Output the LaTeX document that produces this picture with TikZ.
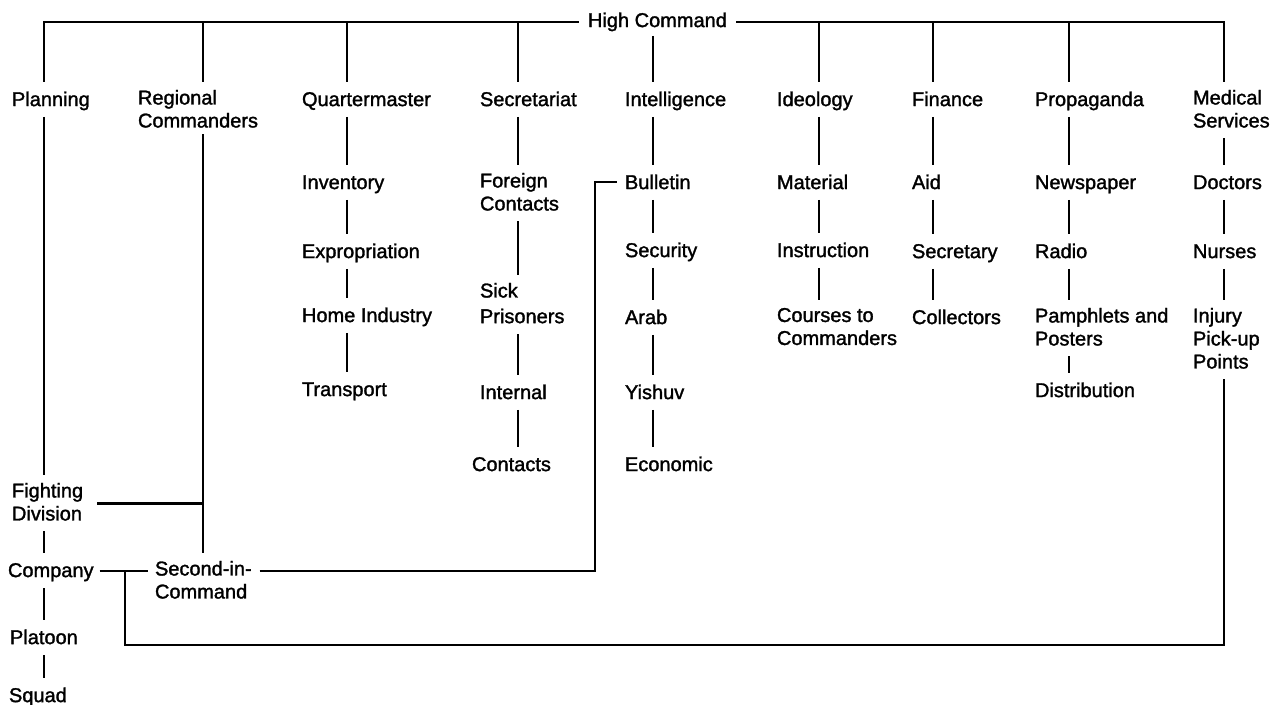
\documentclass[tikz,border=0pt]{standalone}
\usepackage{fontspec}
\setmainfont{Liberation Sans}
\newfontfamily\lblfont[FakeBold=1.5]{Liberation Sans}
\begin{document}
\begin{tikzpicture}[x=0.75pt,y=-0.75pt,
  lbl/.style={anchor=north west, inner sep=0pt, outer sep=0pt, align=left,
    font=\lblfont\fontsize{15}{17.25}\selectfont,
    execute at begin node=\strut, execute at end node=\strut},
  ln/.style={line width=2.2pt},
  lk/.style={ln, shorten <=3pt, shorten >=6pt},
  drop/.style={ln, shorten >=6pt}]
\useasboundingbox (0,0) rectangle (1271,705);
% column and level coordinates
\coordinate (cP) at (44,0);
\coordinate (cR) at (203,0);
\coordinate (cQ) at (347,0);
\coordinate (cS) at (518,0);
\coordinate (cI) at (653,0);
\coordinate (cD) at (819,0);
\coordinate (cF) at (933,0);
\coordinate (cG) at (1069,0);
\coordinate (cM) at (1224,0);
\coordinate (xB) at (595,0);
\coordinate (xC) at (125,0);
\coordinate (yT) at (0,22);
\coordinate (yS) at (0,571);
\coordinate (yBul) at (0,182);
\coordinate (yB) at (0,645);
% nodes
\node[lbl] (hc) at (588,11) {High Command};
\node[lbl] (plan) at (12,90) {Planning};
\node[lbl] (rc) at (138,90) {Regional\\Commanders};
\node[lbl] (qm) at (302,90) {Quartermaster};
\node[lbl] (sec) at (480,90) {Secretariat};
\node[lbl] (int) at (625,90) {Intelligence};
\node[lbl] (ideo) at (777,90) {Ideology};
\node[lbl] (fin) at (912,90) {Finance};
\node[lbl] (prop) at (1035,90) {Propaganda};
\node[lbl] (med) at (1193,90) {Medical\\Services};
\node[lbl] (inv) at (302,173) {Inventory};
\node[lbl] (fc) at (480,173) {Foreign\\Contacts};
\node[lbl] (bul) at (625,173) {Bulletin};
\node[lbl] (mat) at (777,173) {Material};
\node[lbl] (aid) at (912,173) {Aid};
\node[lbl] (news) at (1035,173) {Newspaper};
\node[lbl] (doc) at (1193,173) {Doctors};
\node[lbl] (exp) at (302,242) {Expropriation};
\node[lbl] (secu) at (625,241) {Security};
\node[lbl] (instr) at (777,241) {Instruction};
\node[lbl] (secy) at (912,242) {Secretary};
\node[lbl] (radio) at (1035,242) {Radio};
\node[lbl] (nurses) at (1193,242) {Nurses};
\node[lbl] (sp) at (480,283) {Sick\\[2pt]Prisoners};
\node[lbl] (hi) at (302,306) {Home Industry};
\node[lbl] (arab) at (625,308) {Arab};
\node[lbl] (crs) at (777,308) {Courses to\\Commanders};
\node[lbl] (coll) at (912,308) {Collectors};
\node[lbl] (pp) at (1035,308) {Pamphlets and\\Posters};
\node[lbl] (inj) at (1193,308) {Injury\\Pick-up\\Points};
\node[lbl] (trans) at (302,380) {Transport};
\node[lbl] (intl) at (480,383) {Internal};
\node[lbl] (yish) at (625,383) {Yishuv};
\node[lbl] (dist) at (1035,381) {Distribution};
\node[lbl] (cont) at (472,455) {Contacts};
\node[lbl] (econ) at (625,455) {Economic};
\node[lbl] (fd) at (12,483) {Fighting\\Division};
\node[lbl] (comp) at (8,561) {Company};
\node[lbl] (sic) at (155,561) {Second-in-\\Command};
\node[lbl] (plat) at (10,628) {Platoon};
\node[lbl] (squad) at (9,686) {Squad};
% top bar
\draw[drop] ([xshift=-7pt]hc.west |- yT) -| (plan.north -| cP);
\draw[drop] ([xshift=7pt]hc.east |- yT) -| (med.north -| cM);
\foreach \c/\n in {cR/rc, cQ/qm, cS/sec, cD/ideo, cF/fin, cG/prop}
  \draw[drop] (yT -| \c) -- (\n.north -| \c);
\draw[ln, shorten <=1.5pt, shorten >=6pt] (hc.south -| cI) -- (int.north -| cI);
% column chains
\draw[lk] (qm.south -| cQ) -- (inv.north -| cQ);
\draw[lk] (inv.south -| cQ) -- (exp.north -| cQ);
\draw[lk] (exp.south -| cQ) -- (hi.north -| cQ);
\draw[lk] (hi.south -| cQ) -- (trans.north -| cQ);
\draw[lk] (sec.south -| cS) -- (fc.north -| cS);
\draw[lk] (fc.south -| cS) -- (sp.north -| cS);
\draw[lk] (sp.south -| cS) -- (intl.north -| cS);
\draw[lk] (intl.south -| cS) -- (cont.north -| cS);
\draw[lk] (int.south -| cI) -- (bul.north -| cI);
\draw[lk] (bul.south -| cI) -- (secu.north -| cI);
\draw[lk] (secu.south -| cI) -- (arab.north -| cI);
\draw[lk] (arab.south -| cI) -- (yish.north -| cI);
\draw[lk] (yish.south -| cI) -- (econ.north -| cI);
\draw[lk] (ideo.south -| cD) -- (mat.north -| cD);
\draw[lk] (mat.south -| cD) -- (instr.north -| cD);
\draw[lk] (instr.south -| cD) -- (crs.north -| cD);
\draw[lk] (fin.south -| cF) -- (aid.north -| cF);
\draw[lk] (aid.south -| cF) -- (secy.north -| cF);
\draw[lk] (secy.south -| cF) -- (coll.north -| cF);
\draw[lk] (prop.south -| cG) -- (news.north -| cG);
\draw[lk] (news.south -| cG) -- (radio.north -| cG);
\draw[lk] (radio.south -| cG) -- (pp.north -| cG);
\draw[lk] (pp.south -| cG) -- (dist.north -| cG);
\draw[lk] (med.south -| cM) -- (doc.north -| cM);
\draw[lk] (doc.south -| cM) -- (nurses.north -| cM);
\draw[lk] (nurses.south -| cM) -- (inj.north -| cM);
\draw[lk] (plan.south -| cP) -- (fd.north -| cP);
\draw[lk] (fd.south -| cP) -- (comp.north -| cP);
\draw[lk] (comp.south -| cP) -- (plat.north -| cP);
\draw[lk] (plat.south -| cP) -- (squad.north -| cP);
\draw[lk, shorten <=0pt] (rc.south -| cR) -- (sic.north -| cR);
% cross links
\draw[ln] ([xshift=10.5pt,yshift=1.5pt]fd.east) -- ([yshift=1.5pt]fd.east -| cR);
\draw[ln] ([xshift=4.5pt]comp.east |- yS) -- ([xshift=-5pt]sic.west |- yS);
\draw[ln, shorten >=3pt] (xC |- yS) |- (yB -| cM) -- (inj.south -| cM);
\draw[ln] ([xshift=6pt]sic.east |- yS) -| (xB |- yBul) -- ([xshift=-6pt]bul.west |- yBul);
\end{tikzpicture}
\end{document}
